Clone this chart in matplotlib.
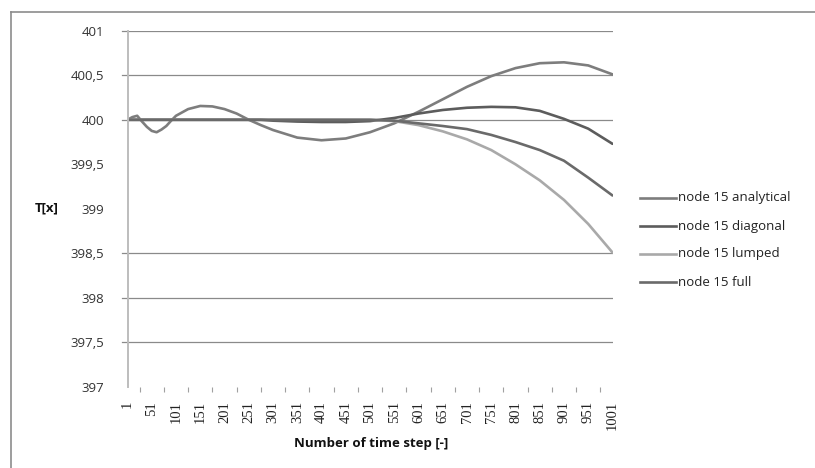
"""Temperature at node 15 for the four solution variants, 1001 time steps."""

import matplotlib

matplotlib.use("Agg")
import matplotlib.pyplot as plt
from matplotlib.lines import Line2D

W, H = 815, 468

# sample steps and values
STEPS = [1, 11, 21, 31, 41, 51, 61, 71, 81, 91, 101, 126, 151, 176, 201, 226,
         251, 276, 301, 351, 401, 451, 501, 551, 601, 651, 701, 751, 801, 851,
         901, 951, 1001]

ANALYTICAL = [400.00, 400.03, 400.045, 399.98, 399.92, 399.875, 399.86, 399.89,
              399.93, 399.99, 400.045, 400.12, 400.155, 400.15, 400.12, 400.07,
              400.00, 399.94, 399.885, 399.80, 399.77, 399.79, 399.86, 399.96,
              400.09, 400.23, 400.37, 400.49, 400.58, 400.635, 400.645, 400.61,
              400.51]
DIAGONAL = [400.0] * 17 + [400.0, 399.99, 399.98, 399.975, 399.975, 399.985,
                           400.02, 400.07, 400.11, 400.135, 400.145, 400.14,
                           400.10, 400.01, 399.90, 399.73]
LUMPED = [400.0] * 23 + [399.985, 399.94, 399.87, 399.78, 399.66, 399.50,
                         399.32, 399.10, 398.83, 398.51]
FULL = [400.0] * 23 + [399.99, 399.96, 399.93, 399.895, 399.83, 399.75,
                       399.66, 399.54, 399.35, 399.15]

SERIES = [
    ("node 15 analytical", ANALYTICAL, "#7d7d7d"),
    ("node 15 diagonal", DIAGONAL, "#5c5c5c"),
    ("node 15 lumped", LUMPED, "#a9a9a9"),
    ("node 15 full", FULL, "#6a6a6a"),
]

Y_TICKS = [397, 397.5, 398, 398.5, 399, 399.5, 400, 400.5, 401]
Y_GRID = [397.5, 398, 398.5, 400, 400.5, 401]  # 399 and 399.5 lines are missing in the source
X_LABELS = list(range(1, 1002, 50))
X_MINOR = list(range(26, 1001, 25))

SANS = ["Open Sans", "DejaVu Sans"]
SERIF = ["Liberation Serif", "DejaVu Serif"]

fig = plt.figure(figsize=(W / 100, H / 100), dpi=100)
ax = fig.add_axes([127.5 / W, (H - 387) / H, 485 / W, (387 - 30.7) / H])

for label, values, color in SERIES:
    ax.plot(STEPS, values, color=color, lw=1.9, solid_capstyle="round")

ax.set_xlim(1, 1001)
ax.set_ylim(397, 401)

for v in Y_GRID:
    ax.axhline(v, color="#8a8a8a", lw=0.9, zorder=0)

for side in ("top", "right", "bottom"):
    ax.spines[side].set_visible(False)
ax.spines["left"].set_color("#bdbdbd")
ax.spines["left"].set_linewidth(1.4)

ax.set_yticks(Y_TICKS)
ax.set_yticklabels([f"{v:g}".replace(".", ",") for v in Y_TICKS],
                   family=SANS, fontsize=9.5, color="#333333")
ax.tick_params(axis="y", length=0, pad=17)
for v in Y_GRID:
    ax.plot([-0.011, 0], [v, v], transform=ax.get_yaxis_transform(),
            color="#8a8a8a", lw=0.9, clip_on=False)

ax.set_xticks(X_LABELS)
ax.set_xticklabels([str(s) for s in X_LABELS], rotation=90, family=SERIF,
                   fontsize=10.5, color="#222222")
ax.tick_params(axis="x", which="major", length=0, pad=10)
ax.set_xticks(X_MINOR, minor=True)
ax.tick_params(axis="x", which="minor", length=3.5, width=0.8, color="#a0a0a0")

fig.text(35 / W, 1 - 208 / H, "T[x]", family=SANS, fontsize=9.5,
         fontweight="bold", va="center", ha="left", color="#111111")
fig.text(371 / W, 1 - 443 / H, "Number of time step [-]", family=SANS,
         fontsize=9.5, fontweight="bold", va="center", ha="center",
         color="#111111")

# legend drawn by hand to keep Excel's layout
for i, (label, values, color) in enumerate(SERIES):
    y = 1 - (198 + 28 * i) / H
    fig.add_artist(Line2D([640 / W, 676 / W], [y, y], color=color, lw=1.9))
    fig.text(678 / W, y, label, family=SANS, fontsize=9.5, va="center",
             ha="left", color="#222222")

# chart border (only top and left edges show in the source)
fig.add_artist(Line2D([11 / W, 11 / W], [0, 1 - 12 / H], color="#8c8c8c", lw=1.2))
fig.add_artist(Line2D([11 / W, 1], [1 - 12 / H, 1 - 12 / H], color="#8c8c8c", lw=1.2))

fig.savefig("out.png", dpi=100)
